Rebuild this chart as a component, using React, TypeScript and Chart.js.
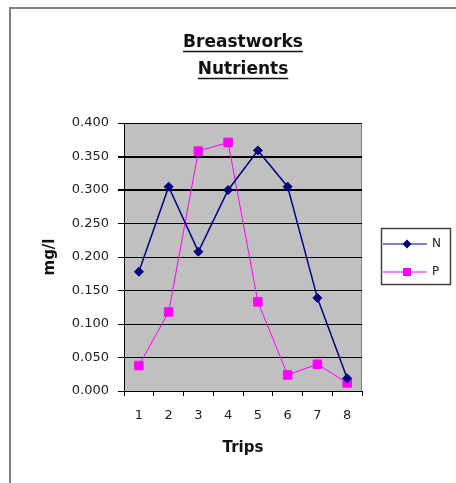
import React, { useEffect, useRef } from "react";
import { Chart, registerables } from "chart.js";

Chart.register(...registerables);

const TITLE_LINES = ["Breastworks", "Nutrients"];
const TRIPS = ["1", "2", "3", "4", "5", "6", "7", "8"];
const N_VALUES = [0.178, 0.305, 0.208, 0.3, 0.359, 0.305, 0.139, 0.019];
const P_VALUES = [0.038, 0.118, 0.358, 0.371, 0.133, 0.024, 0.04, 0.012];
const Y_MIN = 0;
const Y_MAX = 0.4;
const Y_STEP = 0.05;
const X_TITLE = "Trips";
const Y_TITLE = "mg/l";

const FONT = '"DejaVu Sans", "Liberation Sans", Arial, sans-serif';

const backgroundPlugin = {
  id: "bgPlugin",
  beforeDraw(chart: any) {
    const { ctx, chartArea: a } = chart;
    ctx.save();
    ctx.fillStyle = "#ffffff";
    ctx.fillRect(0, 0, chart.width, chart.height);
    ctx.strokeStyle = "#808080";
    ctx.lineWidth = 2;
    ctx.beginPath();
    ctx.moveTo(10, chart.height);
    ctx.lineTo(10, 8);
    ctx.lineTo(chart.width, 8);
    ctx.stroke();
    ctx.fillStyle = "#c0c0c0";
    ctx.fillRect(a.left, a.top, a.right - a.left, a.bottom - a.top);
    ctx.strokeStyle = "#808080";
    ctx.lineWidth = 1;
    ctx.beginPath();
    ctx.moveTo(a.right - 0.5, a.top);
    ctx.lineTo(a.right - 0.5, a.bottom);
    ctx.stroke();
    ctx.restore();
  },
};

const underlinePlugin = {
  id: "underlinePlugin",
  afterDraw(chart: any) {
    const tb = chart.titleBlock;
    if (!tb) return;
    const { ctx } = chart;
    const size = 17;
    const lh = 27;
    const padTop = 29;
    ctx.save();
    ctx.font = `bold ${size}px ${FONT}`;
    ctx.strokeStyle = "#111";
    ctx.lineWidth = 1.5;
    const cx = (tb.left + tb.right) / 2;
    TITLE_LINES.forEach((t, i) => {
      const w = ctx.measureText(t).width;
      const cy = tb.top + padTop + lh / 2 + i * lh + 9;
      ctx.beginPath();
      ctx.moveTo(cx - w / 2, cy);
      ctx.lineTo(cx + w / 2, cy);
      ctx.stroke();
    });
    ctx.restore();
  },
};

const legendPlugin = {
  id: "customLegend",
  afterDraw(chart: any) {
    const { ctx, chartArea: a } = chart;
    const left = a.right + 19;
    const top = 228;
    const w = 69;
    const h = 56;
    ctx.save();
    ctx.fillStyle = "#ffffff";
    ctx.fillRect(left, top, w, h);
    ctx.strokeStyle = "#404040";
    ctx.lineWidth = 1.5;
    ctx.strokeRect(left + 0.5, top + 0.5, w, h);
    chart.data.datasets.forEach((ds: any, i: number) => {
      const y = top + 16 + i * 28;
      ctx.strokeStyle = ds.borderColor;
      ctx.lineWidth = 1;
      ctx.beginPath();
      ctx.moveTo(left + 2, y);
      ctx.lineTo(left + 46, y);
      ctx.stroke();
      const mx = left + 26;
      ctx.fillStyle = ds.backgroundColor;
      ctx.beginPath();
      if (ds.pointStyle === "rectRot") {
        const r = 4.5;
        ctx.moveTo(mx, y - r);
        ctx.lineTo(mx + r, y);
        ctx.lineTo(mx, y + r);
        ctx.lineTo(mx - r, y);
        ctx.closePath();
      } else {
        const s = 4;
        ctx.rect(mx - s, y - s, 2 * s, 2 * s);
      }
      ctx.fill();
      ctx.fillStyle = "#222";
      ctx.font = `12px ${FONT}`;
      ctx.textBaseline = "middle";
      ctx.textAlign = "left";
      ctx.fillText(ds.label, left + 51, y);
    });
    ctx.restore();
  },
};

export default function App() {
  const canvasRef = useRef<HTMLCanvasElement | null>(null);

  useEffect(() => {
    if (!canvasRef.current) return;
    const chart = new Chart(canvasRef.current, {
      type: "line",
      data: {
        labels: TRIPS,
        datasets: [
          {
            label: "N",
            data: N_VALUES,
            borderColor: "#000080",
            backgroundColor: "#000080",
            borderWidth: 1.5,
            pointStyle: "rectRot",
            pointRadius: 4.5,
            pointBorderWidth: 1,
            tension: 0,
          },
          {
            label: "P",
            data: P_VALUES,
            borderColor: "#ff00ff",
            backgroundColor: "#ff00ff",
            borderWidth: 1,
            pointStyle: "rect",
            pointRadius: 6,
            pointBorderWidth: 1,
            tension: 0,
          },
        ],
      } as any,
      options: {
        responsive: false,
        devicePixelRatio: 1,
        animation: false,
        layout: { padding: { top: 0, left: 0, right: 94, bottom: 22 } },
        plugins: {
          legend: { display: false },
          tooltip: { enabled: false },
          title: {
            display: true,
            text: TITLE_LINES,
            fullSize: false,
            color: "#111",
            font: { family: FONT, size: 17, weight: "bold", lineHeight: 27 / 17 },
            padding: { top: 29, bottom: 40 },
          },
        },
        scales: {
          x: {
            type: "category",
            offset: true,
            afterFit: (s: any) => {
              s.height = 70;
            },
            grid: {
              offset: true,
              drawOnChartArea: false,
              drawTicks: true,
              tickLength: 5,
              color: "#000",
            },
            border: { display: true, color: "#000", width: 1 },
            ticks: {
              color: "#222",
              font: { family: FONT, size: 13 },
              padding: 12,
              maxRotation: 0,
            },
            title: {
              display: true,
              text: X_TITLE,
              color: "#111",
              font: { family: FONT, size: 15, weight: "bold" },
              padding: { top: 0, bottom: 4 },
            },
          },
          y: {
            min: Y_MIN,
            max: Y_MAX,
            afterFit: (s: any) => {
              s.width = 124;
            },
            grid: {
              color: "#000",
              lineWidth: (c: any) => {
                const v = c.tick ? c.tick.value : 0;
                return Math.abs(v - 0.3) < 1e-6 || Math.abs(v - 0.35) < 1e-6 ? 2 : 1;
              },
              drawTicks: true,
              tickLength: 6,
              tickColor: "#000",
            },
            border: { display: true, color: "#000", width: 1 },
            ticks: {
              stepSize: Y_STEP,
              color: "#222",
              font: { family: FONT, size: 13 },
              padding: 9,
              callback: (v: any) => Number(v).toFixed(3),
            },
            title: {
              display: true,
              text: Y_TITLE,
              color: "#111",
              font: { family: FONT, size: 15, weight: "bold" },
              padding: { top: 41, bottom: 0 },
            },
          },
        },
      } as any,
      plugins: [backgroundPlugin, underlinePlugin, legendPlugin],
    });
    return () => chart.destroy();
  }, []);

  return (
    <div style={{ position: "absolute", left: 0, top: 0, width: 456, height: 483 }}>
      <canvas ref={canvasRef} width={456} height={483} />
    </div>
  );
}
